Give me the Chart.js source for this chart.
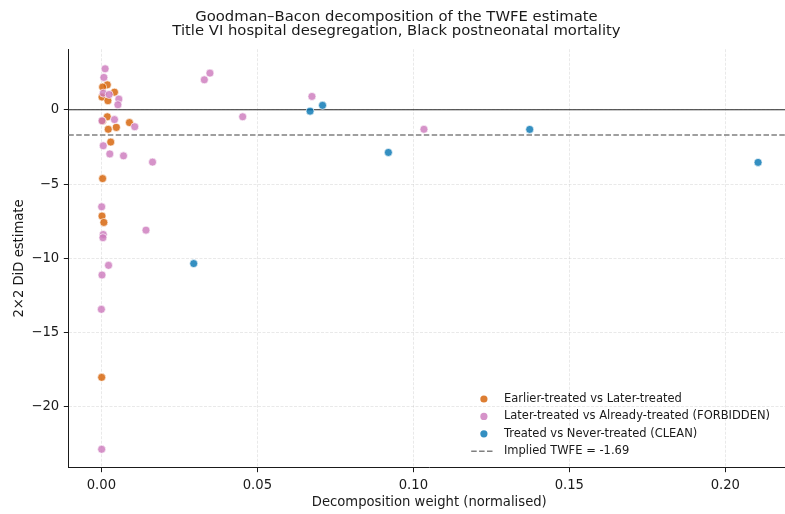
<!DOCTYPE html>
<html>
<head>
<meta charset="utf-8">
<script src="https://cdn.jsdelivr.net/npm/chart.js@4"></script>
<style>
  html, body { margin: 0; padding: 0; background: #fff; overflow: hidden; }
  #wrap { width: 795px; height: 514px; }
</style>
</head>
<body>
<div id="wrap"><canvas id="bacon"></canvas></div>
<script>
// --- Goodman-Bacon scatter: 2x2 DiD estimate vs. its decomposition weight ---

const titleLines = [
    'Goodman\u2013Bacon decomposition of the TWFE estimate',
    'Title VI hospital desegregation, Black postneonatal mortality'
];
const xLabel = 'Decomposition weight (normalised)';
const yLabel = '2\u00d72 DiD estimate';

const xTicks = [0, 0.05, 0.10, 0.15, 0.20];
const yTicks = [-20, -15, -10, -5, 0];
const xRange = [-0.0106, 0.2208];
const yRange = [-24.09, 4.08];

const twfe = -1.69;

// Earlier-treated vs Later-treated
const earlyW   = [0.0019, 0.0004, 0.0042, 0.0002, 0.0021, 0.0019, 0.0004, 0.0090, 0.0048, 0.0022, 0.0030, 0.0004, 0.0002, 0.0008, 0.0001];
const earlyEst = [1.68, 1.53, 1.19, 0.86, 0.61, -0.47, -0.76, -0.86, -1.19, -1.31, -2.17, -4.63, -7.15, -7.58, -18.01];

// Later-treated vs Already-treated (forbidden comparisons)
const forbidW   = [0.0012, 0.0008, 0.0006, 0.0025, 0.0056, 0.0053, 0.0002, 0.0042, 0.0107, 0.0006, 0.0027, 0.0071, 0.0164,
                   0.0330, 0.0348, 0.0453, 0.0675, 0.1034, 0.0001, 0.0006, 0.0005, 0.0143, 0.0023, 0.0002, 0.0000, 0.0001];
const forbidEst = [2.76, 2.18, 1.12, 1.03, 0.72, 0.34, -0.74, -0.66, -1.14, -2.42, -2.97, -3.10, -3.52,
                   2.02, 2.47, -0.47, 0.90, -1.31, -6.53, -8.39, -8.61, -8.10, -10.47, -11.12, -13.43, -22.85];

// Treated vs Never-treated (clean comparisons)
const cleanW   = [0.0669, 0.0709, 0.0920, 0.1373, 0.2105, 0.0296];
const cleanEst = [-0.09, 0.30, -2.87, -1.32, -3.54, -10.35];

const seriesLabels = [
    'Earlier-treated vs Later-treated',
    'Later-treated vs Already-treated (FORBIDDEN)',
    'Treated vs Never-treated (CLEAN)'
];

const pts = (w, e) => w.map((v, i) => ({ x: v, y: e[i] }));
const fmtMinus = (v) => (v < 0 ? '\u2212' + Math.abs(v) : String(v));

Chart.defaults.font.family = "'DejaVu Sans', sans-serif";
Chart.defaults.color = '#1a1a1a';

// legend sits inside the axes, lower right, no frame
const insideLegend = {
    id: 'insideLegend',
    afterDatasetsDraw(chart) {
        const { ctx, chartArea } = chart;
        const items = chart.data.datasets.filter(d => d.label);
        const textX = chartArea.right - 286.3;
        ctx.save();
        ctx.font = "11.5px 'DejaVu Sans', sans-serif";
        ctx.textBaseline = 'middle';
        ctx.textAlign = 'left';
        items.forEach((d, i) => {
            const y = chartArea.bottom - 68.7 + i * 17.4;
            if (d.type === 'line') {
                ctx.strokeStyle = d.borderColor;
                ctx.lineWidth = d.borderWidth;
                ctx.setLineDash(d.borderDash);
                ctx.beginPath();
                ctx.moveTo(textX - 32.7, y);
                ctx.lineTo(textX - 9.7, y);
                ctx.stroke();
                ctx.setLineDash([]);
            } else {
                ctx.fillStyle = d.backgroundColor;
                ctx.beginPath();
                ctx.arc(textX - 20, y, 3.6, 0, Math.PI * 2);
                ctx.fill();
            }
            ctx.fillStyle = '#1a1a1a';
            ctx.fillText(d.label, textX, y);
        });
        ctx.restore();
    }
};

const dotStyle = (fill) => ({
    type: 'scatter',
    backgroundColor: fill,
    borderColor: 'rgba(255,255,255,0.8)',
    borderWidth: 0.8,
    pointRadius: 4,
    pointHoverRadius: 4
});

const gridStyle = {
    color: 'rgba(176,176,176,0.35)',
    lineWidth: 0.8,
    tickColor: '#1a1a1a',
    tickWidth: 1,
    tickLength: 4.5,
    tickBorderDash: []
};

// v4 keeps the grid-line dash pattern under `border`
const borderStyle = { display: true, color: '#1a1a1a', width: 1, dash: [3, 1.5] };

new Chart(document.getElementById('bacon'), {
    data: {
        datasets: [
            { ...dotStyle('rgba(213,94,0,0.8)'), label: seriesLabels[0], data: pts(earlyW, earlyEst), order: 3 },
            { ...dotStyle('rgba(204,120,188,0.8)'), label: seriesLabels[1], data: pts(forbidW, forbidEst), order: 2 },
            { ...dotStyle('rgba(1,115,178,0.8)'), label: seriesLabels[2], data: pts(cleanW, cleanEst), order: 1 },
            {
                type: 'line', label: 'Implied TWFE = ' + twfe.toFixed(2),
                data: [{ x: xRange[0], y: twfe }, { x: xRange[1], y: twfe }],
                borderColor: '#808080', borderWidth: 1.5, borderDash: [5.5, 2.4],
                pointRadius: 0, order: 5
            },
            {
                type: 'line', label: '',
                data: [{ x: xRange[0], y: 0 }, { x: xRange[1], y: 0 }],
                borderColor: '#262626', borderWidth: 1.1,
                pointRadius: 0, order: 4
            }
        ]
    },
    options: {
        responsive: true,
        maintainAspectRatio: false,
        animation: false,
        layout: { padding: { left: 0, right: 2, top: 0, bottom: 0 } },
        plugins: {
            legend: { display: false },
            tooltip: { enabled: false },
            title: {
                display: true,
                text: titleLines,
                color: '#1a1a1a',
                font: { size: 14.8, weight: 'normal', lineHeight: '14.6px' },
                padding: { top: 9.4, bottom: 10.6 }
            }
        },
        scales: {
            x: {
                type: 'linear',
                min: xRange[0],
                max: xRange[1],
                afterBuildTicks: (s) => { s.ticks = xTicks.map(v => ({ value: v })); },
                afterFit: (s) => { s.height = 46.3; },
                grid: gridStyle,
                border: borderStyle,
                ticks: {
                    padding: 5.5,
                    font: { size: 13.2 },
                    color: '#1a1a1a',
                    maxRotation: 0,
                    callback: (v) => v.toFixed(2)
                },
                title: {
                    display: true, text: xLabel, color: '#1a1a1a',
                    font: { size: 13.2 }, padding: { top: 0, bottom: 3.4 }
                }
            },
            y: {
                type: 'linear',
                min: yRange[0],
                max: yRange[1],
                afterBuildTicks: (s) => { s.ticks = yTicks.map(v => ({ value: v })); },
                afterFit: (s) => { s.width = 68.3; },
                grid: gridStyle,
                border: borderStyle,
                ticks: {
                    padding: 4.6,
                    font: { size: 13.2 },
                    color: '#1a1a1a',
                    callback: fmtMinus
                },
                title: {
                    display: true, text: yLabel, color: '#1a1a1a',
                    font: { size: 13.2 }, padding: { top: 12.1, bottom: 0 }
                }
            }
        }
    },
    plugins: [insideLegend]
});
</script>
</body>
</html>
